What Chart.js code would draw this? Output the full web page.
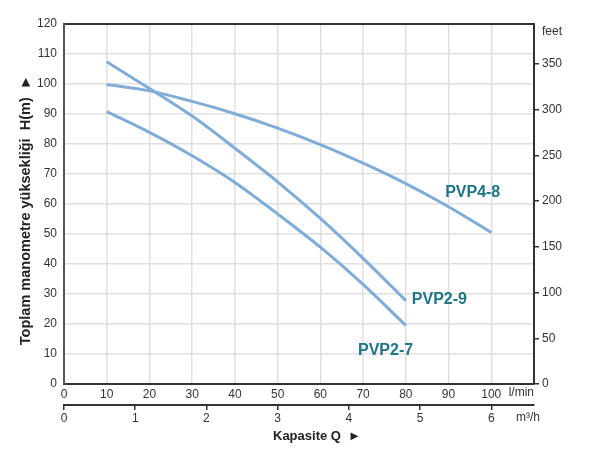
<!DOCTYPE html>
<html lang="tr">
<head>
<meta charset="UTF-8">
<title>PVP Pompa Eğrileri</title>
<script src="https://cdn.jsdelivr.net/npm/chart.js"></script>
<style>
  html, body { margin: 0; padding: 0; background: #fff; }
</style>
</head>
<body>
<canvas id="pumpChart" width="598" height="449"></canvas>
<script>
// flow in l/min, head in m
const flowLpm = [10, 20, 30, 40, 50, 60, 70, 80, 90, 100];
const pvp48 = [99.8, 97.7, 94.2, 90.1, 85.3, 79.8, 73.6, 66.8, 59.1, 50.5];
const pvp29 = [107.4, 98.5, 89.3, 78.6, 67.4, 55.2, 41.9, 27.8];
const pvp27 = [90.8, 83.9, 76.1, 67.2, 56.7, 45.6, 33.2, 19.5];
const seriesNames = ["PVP4-8", "PVP2-9", "PVP2-7"];

const lpmTicks = [0, 10, 20, 30, 40, 50, 60, 70, 80, 90, 100];
const m3hTicks = [0, 1, 2, 3, 4, 5, 6];
const headTicks = [0, 10, 20, 30, 40, 50, 60, 70, 80, 90, 100, 110, 120];
const feetTicks = [0, 50, 100, 150, 200, 250, 300, 350];

const M_TO_FT = 3.28084;
const LPM_PER_M3H = 1000 / 60;
const FLOW_MAX = 110;
const HEAD_MAX = 120;

const FONT = '"Liberation Sans", Arial, sans-serif';
const lineColor = "#80acd8";
const labelColor = "#217487";

function pts(vals) {
  return vals.map((h, i) => ({ x: flowLpm[i], y: h }));
}

// where the curve names sit, in l/min and m
const labelSpots = [
  { q: 89.2, h: 63.7 },
  { q: 81.4, h: 28.3 },
  { q: 68.8, h: 11.3 }
];

const textPlugin = {
  id: "textPlugin",
  afterDraw(chart) {
    const { ctx, chartArea, scales } = chart;
    ctx.save();
    ctx.textBaseline = "middle";

    ctx.font = "bold 16px " + FONT;
    ctx.fillStyle = labelColor;
    ctx.textAlign = "left";
    seriesNames.forEach((name, i) => {
      const s = labelSpots[i];
      ctx.fillText(name, scales.x.getPixelForValue(s.q), scales.y.getPixelForValue(s.h));
    });

    ctx.font = "12px " + FONT;
    ctx.fillStyle = "#333";
    ctx.textAlign = "right";
    ctx.fillText("l/min", chartArea.right, scales.x.top + 9);
    ctx.fillText("m³/h", chartArea.right + 6, scales.x2.top + 13);
    ctx.textAlign = "left";
    ctx.fillText("feet", chartArea.right + 8, chartArea.top + 8);

    ctx.font = "bold 13px " + FONT;
    ctx.fillStyle = "#222";
    const mid = (chartArea.left + chartArea.right) / 2;
    ctx.fillText("Kapasite Q", mid - 26, scales.x2.bottom - 13);
    ctx.font = "13px " + FONT;
    ctx.fillText("►", mid + 49, scales.x2.bottom - 13);
    ctx.restore();
  }
};

const tickFont = { family: FONT, size: 12 };

new Chart(document.getElementById("pumpChart").getContext("2d"), {
  type: "line",
  data: {
    datasets: [
      { label: seriesNames[0], data: pts(pvp48) },
      { label: seriesNames[1], data: pts(pvp29) },
      { label: seriesNames[2], data: pts(pvp27) }
    ].map(d => Object.assign(d, {
      borderColor: lineColor,
      borderWidth: 3,
      pointRadius: 0,
      fill: false,
      cubicInterpolationMode: "monotone"
    }))
  },
  options: {
    responsive: false,
    animation: false,
    devicePixelRatio: 1,
    layout: { padding: { top: 24, left: 0, right: 0, bottom: 0 } },
    plugins: { legend: { display: false }, tooltip: { enabled: false } },
    scales: {
      x: {
        type: "linear",
        position: "bottom",
        weight: 0,
        min: 0,
        max: FLOW_MAX,
        afterBuildTicks: s => { s.ticks = lpmTicks.map(v => ({ value: v })); },
        afterFit: s => { s.height = 21; },
        grid: { color: "#e0e0e0", lineWidth: 1.5, drawTicks: false },
        border: { color: "#333", width: 2 },
        ticks: { font: tickFont, color: "#333", padding: 3, maxRotation: 0 }
      },
      x2: {
        type: "linear",
        position: "bottom",
        weight: 1,
        min: 0,
        max: FLOW_MAX / LPM_PER_M3H,
        afterBuildTicks: s => { s.ticks = m3hTicks.map(v => ({ value: v })); },
        afterFit: s => { s.height = 44; },
        grid: { drawOnChartArea: false, color: "#333", lineWidth: 1.5, tickLength: 5 },
        border: { color: "#333", width: 2 },
        ticks: { font: tickFont, color: "#333", padding: 1, maxRotation: 0 }
      },
      y: {
        type: "linear",
        position: "left",
        min: 0,
        max: HEAD_MAX,
        afterBuildTicks: s => { s.ticks = headTicks.map(v => ({ value: v })); },
        afterFit: s => { s.width = 64; },
        grid: {
          color: c => (c.tick && c.tick.value === HEAD_MAX ? "#333" : "#e0e0e0"),
          lineWidth: c => (c.tick && c.tick.value === HEAD_MAX ? 2 : 1.5),
          drawTicks: false
        },
        border: { color: "#555", width: 2 },
        ticks: { font: tickFont, color: "#333", padding: 7 },
        title: {
          display: true,
          text: "Toplam manometre yüksekliği  H(m)  ►   ",
          font: { family: FONT, size: 14.5, weight: "bold" },
          color: "#222",
          padding: { top: 17, bottom: 0 }
        }
      },
      y2: {
        type: "linear",
        position: "right",
        min: 0,
        max: HEAD_MAX * M_TO_FT,
        afterBuildTicks: s => { s.ticks = feetTicks.map(v => ({ value: v })); },
        afterFit: s => { s.width = 64; },
        grid: { drawOnChartArea: false, color: "#333", lineWidth: 1.5, tickLength: 5 },
        border: { color: "#333", width: 2 },
        ticks: { font: tickFont, color: "#333", padding: 3 }
      }
    }
  },
  plugins: [textPlugin]
});
</script>
</body>
</html>
